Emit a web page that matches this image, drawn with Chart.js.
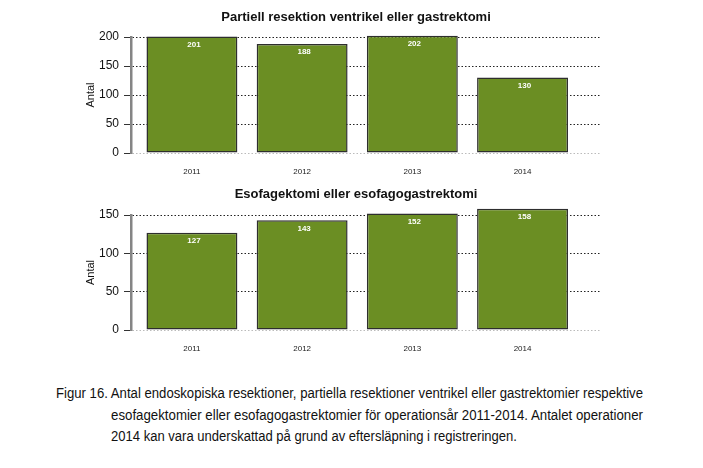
<!DOCTYPE html>
<html>
<head>
<meta charset="utf-8">
<script src="https://cdn.jsdelivr.net/npm/chart.js@4"></script>
<style>
  body { margin: 0; background: #fff; width: 703px; height: 468px; overflow: hidden; position: relative; }
  canvas { position: absolute; left: 0; }
  #c1 { top: 0; }
  #c2 { top: 176px; }
  .cap { position: absolute; font-family: "Liberation Sans", Arial, sans-serif; font-size: 14px; color: #111;
         white-space: nowrap; transform-origin: 0 50%; line-height: 16px; }
</style>
</head>
<body>
<canvas id="c1" width="712" height="180" style="width:712px;height:180px"></canvas>
<canvas id="c2" width="712" height="181" style="width:712px;height:181px"></canvas>
<div class="cap" id="l1" style="left:56px;top:385px" data-w="587">Figur 16. Antal endoskopiska resektioner, partiella resektioner ventrikel eller gastrektomier respektive</div>
<div class="cap" id="l2" style="left:111px;top:407px" data-w="532">esofagektomier eller esofagogastrektomier för operationsår 2011-2014. Antalet operationer</div>
<div class="cap" id="l3" style="left:111px;top:428px" data-w="406">2014 kan vara underskattad på grund av eftersläpning i registreringen.</div>
<script>
const years = ["2011", "2012", "2013", "2014"];
const partiell = [201, 188, 202, 130];
const esofag = [127, 143, 152, 158];
const ticksTop = [0, 50, 100, 150, 200];
const ticksBottom = [0, 50, 100, 150];

// white value labels inside the bar tops
const valueLabels = {
  id: "valueLabels",
  afterDatasetsDraw(chart) {
    const ctx = chart.ctx;
    const meta = chart.getDatasetMeta(0);
    ctx.save();
    ctx.fillStyle = "#fff";
    ctx.font = "bold 8px 'Liberation Sans', Arial, sans-serif";
    ctx.textAlign = "center";
    ctx.textBaseline = "middle";
    meta.data.forEach((bar, i) => {
      ctx.fillText(chart.data.datasets[0].data[i].y, bar.x + 2, bar.y + 8);
    });
    ctx.restore();
  }
};

function makeChart(id, title, values, yTicks, titlePad) {
  new Chart(document.getElementById(id), {
    type: "bar",
    data: {
      datasets: [{
        data: values.map((v, i) => ({ x: i, y: v })),
        backgroundColor: "#6B8E23",
        borderColor: "#2e2e2e",
        borderWidth: 1.5,
        borderSkipped: false,
        categoryPercentage: 1,
        barPercentage: 0.825,
        clip: false // bars may rise a little above the top tick, as in R
      }]
    },
    options: {
      responsive: false,
      animation: false,
      layout: { padding: 0 },
      plugins: {
        legend: { display: false },
        tooltip: { enabled: false },
        title: {
          display: true,
          text: title,
          color: "#111",
          font: { family: "'Liberation Sans', Arial, sans-serif", size: 13, weight: "bold" },
          padding: titlePad
        }
      },
      scales: {
        x: {
          type: "linear",
          offset: false,
          min: -0.553,
          max: 3.712,
          grid: { display: false, drawTicks: false },
          border: { display: false },
          afterBuildTicks: (s) => { s.ticks = years.map((y, i) => ({ value: i })); },
          ticks: {
            callback: (v) => years[v],
            color: "#222",
            padding: 14,
            maxRotation: 0,
            font: { family: "'Liberation Sans', Arial, sans-serif", size: 8 }
          },
          afterFit: (s) => { s.height = 27; }
        },
        y: {
          min: yTicks[0],
          max: yTicks[yTicks.length - 1],
          afterBuildTicks: (s) => { s.ticks = yTicks.map((v) => ({ value: v })); },
          grid: {
            color: (c) => (c.tick && c.tick.value === 0 ? "#bbb" : "#222"),
            lineWidth: 1,
            tickLength: 7,
            tickColor: "#333",
            tickBorderDash: [],
            tickWidth: 1
          },
          border: { display: true, color: "#858585", width: 2.5, dash: [1.5, 2] },
          ticks: {
            color: "#111",
            padding: 5,
            font: { family: "'Liberation Sans', Arial, sans-serif", size: 12 }
          },
          title: {
            display: true,
            text: "Antal",
            color: "#111",
            padding: { top: 84, bottom: 0 },
            font: { family: "'Liberation Sans', Arial, sans-serif", size: 11 }
          },
          afterFit: (s) => { s.width = 131; }
        },
        yR: {
          position: "right",
          display: true,
          grid: { display: false },
          border: { display: false },
          ticks: { display: false },
          afterFit: (s) => { s.width = 111; }
        }
      }
    },
    plugins: [valueLabels]
  });
}

makeChart("c1", "Partiell resektion ventrikel eller gastrektomi", partiell, ticksTop, { top: 10, bottom: 11.4 });
makeChart("c2", "Esofagektomi eller esofagogastrektomi", esofag, ticksBottom, { top: 11, bottom: 12.4 });

// fit each caption line to its measured width in the reference
document.querySelectorAll(".cap").forEach((el) => {
  const w = el.getBoundingClientRect().width;
  el.style.transform = "scaleX(" + (+el.dataset.w / w) + ")";
});
</script>
</body>
</html>
